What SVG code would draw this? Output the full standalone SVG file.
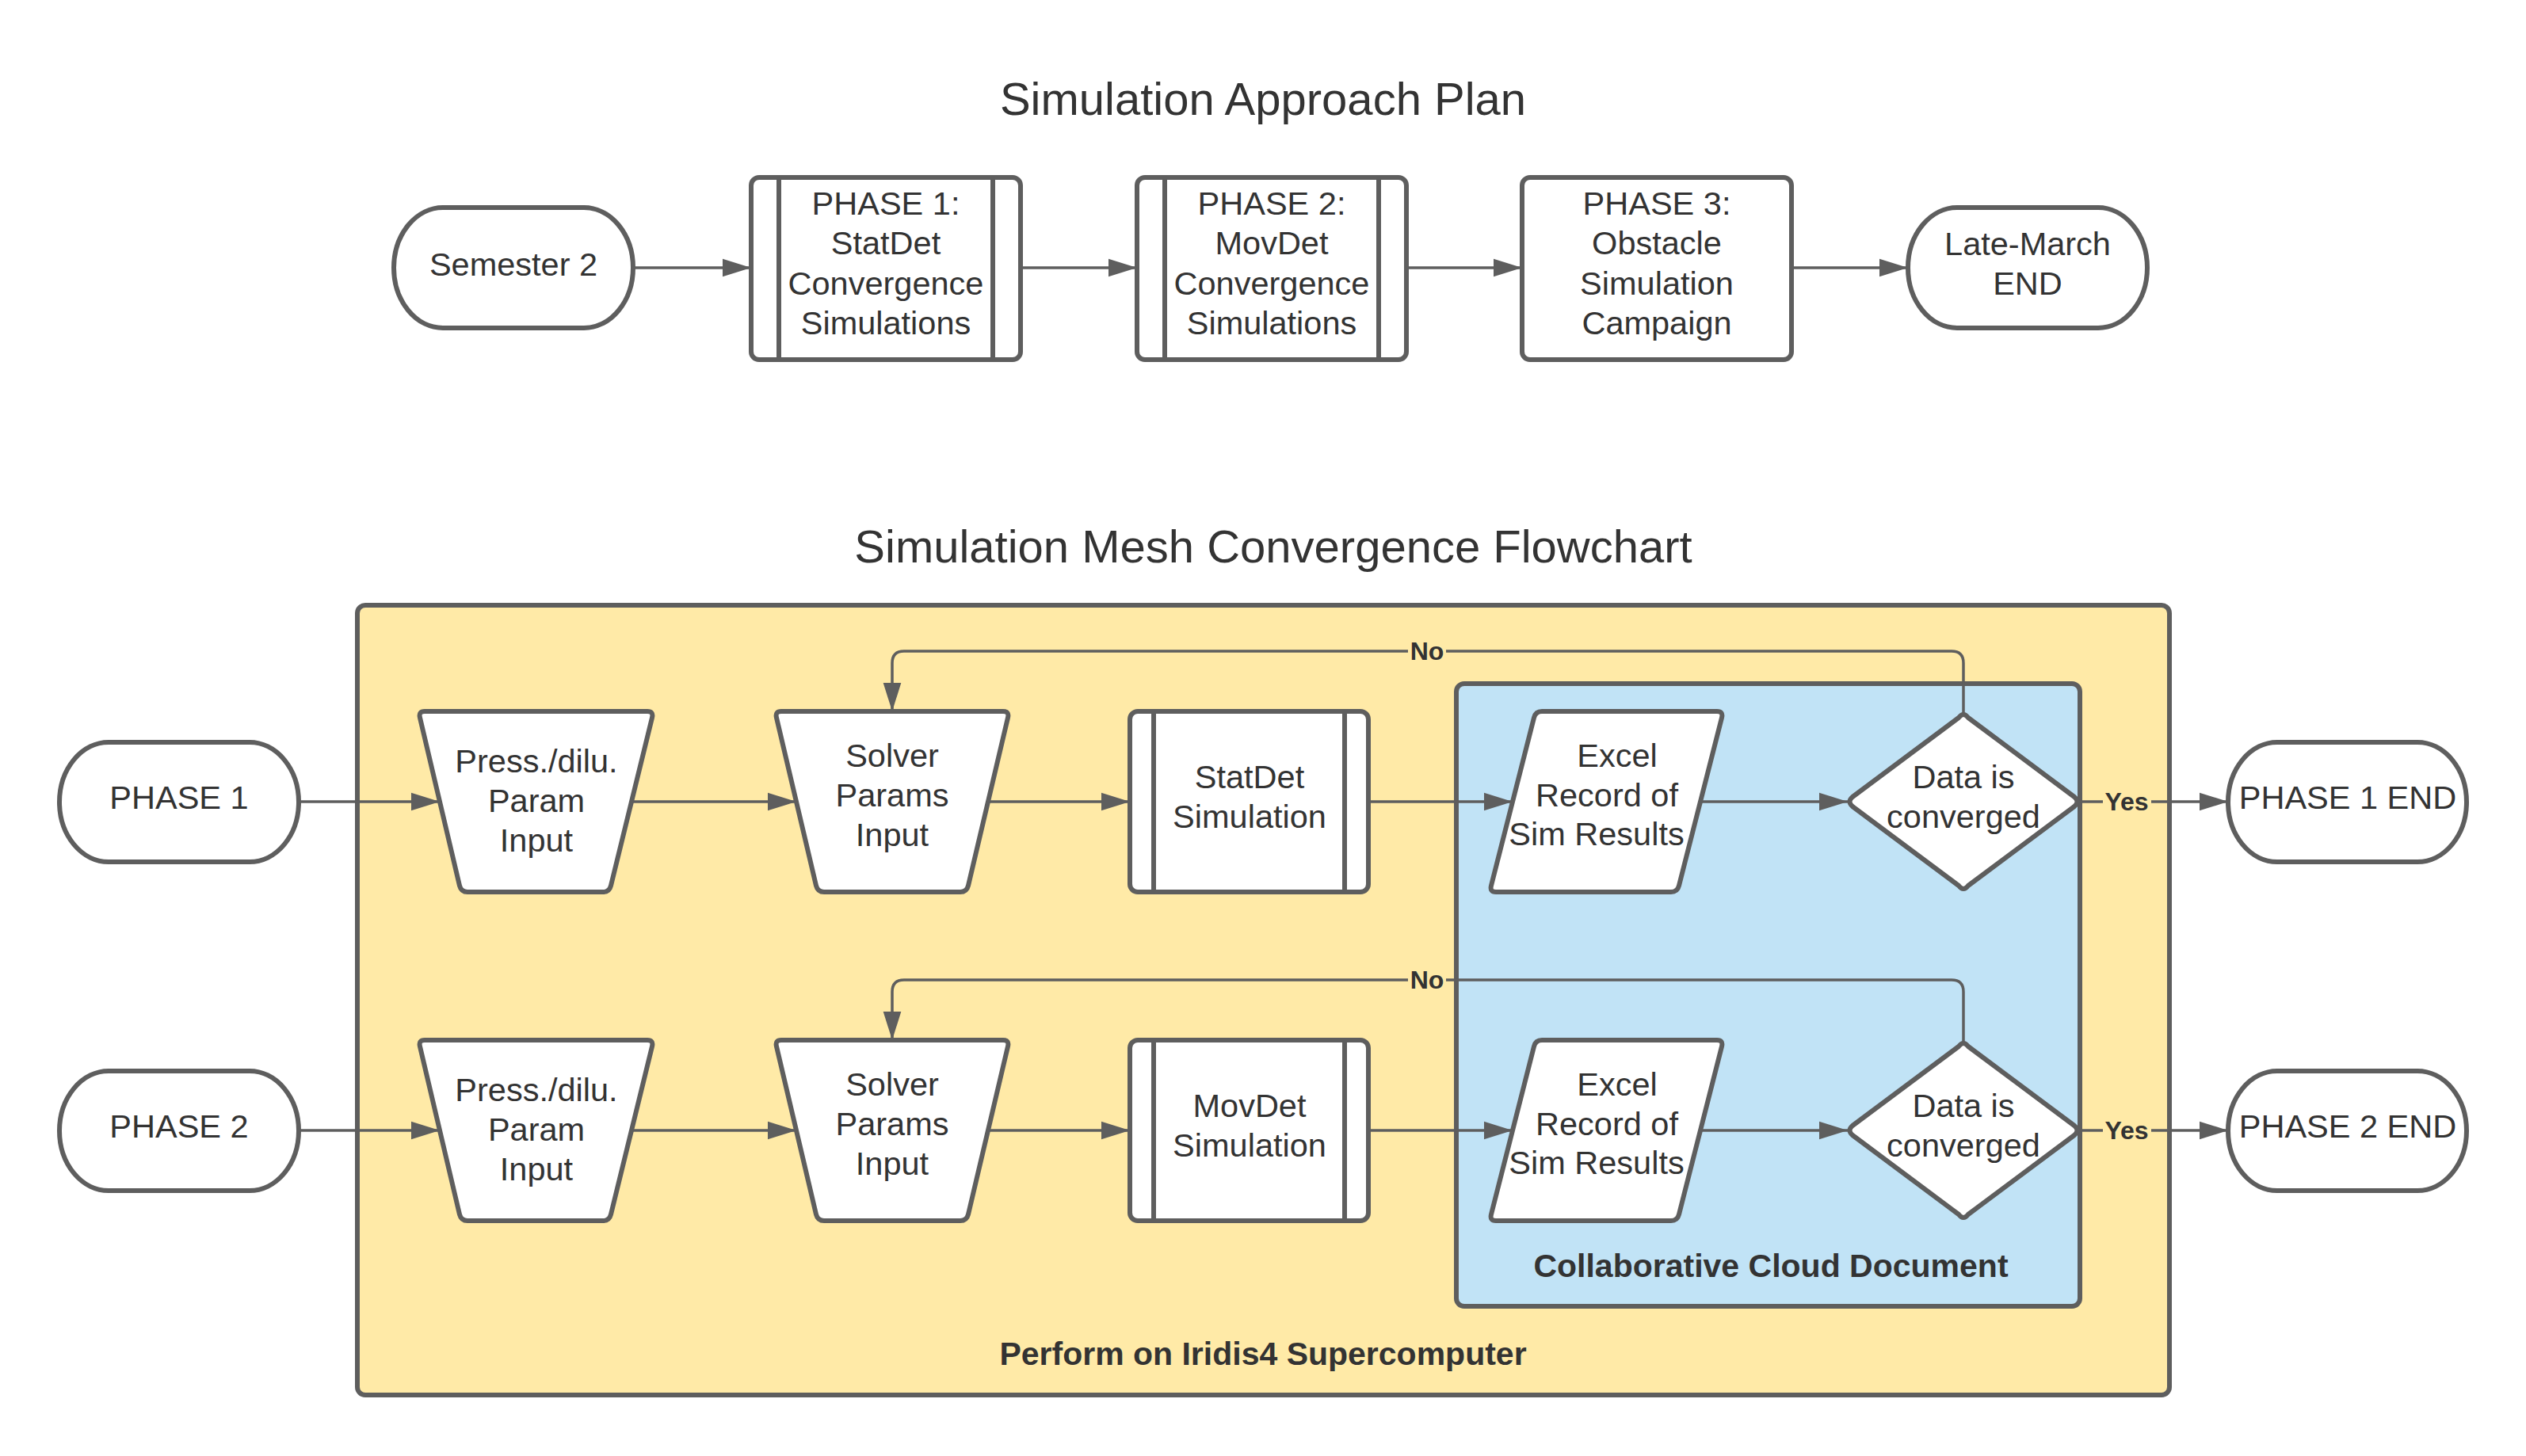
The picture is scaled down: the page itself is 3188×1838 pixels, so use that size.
<svg xmlns="http://www.w3.org/2000/svg" width="3188" height="1838" viewBox="0 0 3188 1838">
<defs>
<marker id="ah" markerUnits="userSpaceOnUse" markerWidth="36" markerHeight="24" viewBox="0 0 35 22" refX="35" refY="11" orient="auto">
<path d="M0,0 L35,11 L0,22 Z" fill="#5e5e5e"/>
</marker>
<style>
.n{fill:#ffffff;stroke:#5e5e5e;stroke-width:6;stroke-linejoin:round}
.ln{fill:none;stroke:#5e5e5e;stroke-width:6}
.c{fill:none;stroke:#5e5e5e;stroke-width:3.5}
.t{font-family:"Liberation Sans",Arial,sans-serif;font-size:41.5px;fill:#333333;text-anchor:middle}
.title{font-family:"Liberation Sans",Arial,sans-serif;font-size:58px;fill:#333333;text-anchor:middle}
.b{font-family:"Liberation Sans",Arial,sans-serif;font-size:41px;font-weight:bold;fill:#333333;text-anchor:middle}
.lb{font-family:"Liberation Sans",Arial,sans-serif;font-size:32px;font-weight:bold;fill:#333333;text-anchor:middle}
.lbg{fill:#FFEAA7}
</style>
</defs>
<rect width="3188" height="1838" fill="#ffffff"/>

<text class="title" x="1594" y="145">Simulation Approach Plan</text>
<text class="title" x="1607" y="710">Simulation Mesh Convergence Flowchart</text>

<g id="container-iridis">
<rect x="451" y="764" width="2287" height="997" rx="10" fill="#FFEAA7" stroke="#5e5e5e" stroke-width="6"/>
<text class="b" x="1594" y="1723">Perform on Iridis4 Supercomputer</text>
</g>
<g id="container-cloud">
<rect x="1838" y="863" width="787" height="786" rx="10" fill="#C1E3F6" stroke="#5e5e5e" stroke-width="6"/>
<text class="b" x="2235" y="1612">Collaborative Cloud Document</text>
</g>

<g id="connectors">
<!-- top row -->
<line class="c" x1="799" y1="338" x2="948" y2="338" marker-end="url(#ah)"/>
<line class="c" x1="1288" y1="338" x2="1435" y2="338" marker-end="url(#ah)"/>
<line class="c" x1="1775" y1="338" x2="1921" y2="338" marker-end="url(#ah)"/>
<line class="c" x1="2261" y1="338" x2="2408" y2="338" marker-end="url(#ah)"/>
<!-- row 1 -->
<line class="c" x1="377" y1="1012" x2="555" y2="1012" marker-end="url(#ah)"/>
<line class="c" x1="797" y1="1012" x2="1005" y2="1012" marker-end="url(#ah)"/>
<line class="c" x1="1247" y1="1012" x2="1426" y2="1012" marker-end="url(#ah)"/>
<line class="c" x1="1727" y1="1012" x2="1909" y2="1012" marker-end="url(#ah)"/>
<line class="c" x1="2147" y1="1012" x2="2332" y2="1012" marker-end="url(#ah)"/>
<line class="c" x1="2624" y1="1012" x2="2812" y2="1012" marker-end="url(#ah)"/>
<path class="c" d="M2478,902 V837 Q2478,822 2463,822 H1141 Q1126,822 1126,837 V898" marker-end="url(#ah)"/>
<rect class="lbg" x="1777" y="804" width="48" height="36"/>
<text class="lb" x="1801" y="833">No</text>
<rect class="lbg" x="2654" y="994" width="61" height="36"/>
<text class="lb" x="2684" y="1023">Yes</text>
<!-- row 2 -->
<line class="c" x1="377" y1="1427" x2="555" y2="1427" marker-end="url(#ah)"/>
<line class="c" x1="797" y1="1427" x2="1005" y2="1427" marker-end="url(#ah)"/>
<line class="c" x1="1247" y1="1427" x2="1426" y2="1427" marker-end="url(#ah)"/>
<line class="c" x1="1727" y1="1427" x2="1909" y2="1427" marker-end="url(#ah)"/>
<line class="c" x1="2147" y1="1427" x2="2332" y2="1427" marker-end="url(#ah)"/>
<line class="c" x1="2624" y1="1427" x2="2812" y2="1427" marker-end="url(#ah)"/>
<path class="c" d="M2478,1317 V1252 Q2478,1237 2463,1237 H1141 Q1126,1237 1126,1252 V1313" marker-end="url(#ah)"/>
<rect class="lbg" x="1777" y="1219" width="48" height="36"/>
<text class="lb" x="1801" y="1248">No</text>
<rect class="lbg" x="2654" y="1409" width="61" height="36"/>
<text class="lb" x="2684" y="1438">Yes</text>
</g>

<!-- top row nodes -->
<g id="semester2">
<rect class="n" x="497" y="262" width="302" height="152" rx="62" ry="76"/>
<text class="t" x="648" y="348">Semester 2</text>
</g>
<g id="phase1-plan">
<rect class="n" x="948" y="224" width="340" height="230" rx="10"/>
<line class="ln" x1="983" y1="224" x2="983" y2="454"/>
<line class="ln" x1="1253" y1="224" x2="1253" y2="454"/>
<text class="t" x="1118" y="271">PHASE 1:</text>
<text class="t" x="1118" y="321">StatDet</text>
<text class="t" x="1118" y="372">Convergence</text>
<text class="t" x="1118" y="422">Simulations</text>
</g>
<g id="phase2-plan">
<rect class="n" x="1435" y="224" width="340" height="230" rx="10"/>
<line class="ln" x1="1470" y1="224" x2="1470" y2="454"/>
<line class="ln" x1="1740" y1="224" x2="1740" y2="454"/>
<text class="t" x="1605" y="271">PHASE 2:</text>
<text class="t" x="1605" y="321">MovDet</text>
<text class="t" x="1605" y="372">Convergence</text>
<text class="t" x="1605" y="422">Simulations</text>
</g>
<g id="phase3-plan">
<rect class="n" x="1921" y="224" width="340" height="230" rx="10"/>
<text class="t" x="2091" y="271">PHASE 3:</text>
<text class="t" x="2091" y="321">Obstacle</text>
<text class="t" x="2091" y="372">Simulation</text>
<text class="t" x="2091" y="422">Campaign</text>
</g>
<g id="late-march">
<rect class="n" x="2408" y="262" width="302" height="152" rx="62" ry="76"/>
<text class="t" x="2559" y="322">Late-March</text>
<text class="t" x="2559" y="372">END</text>
</g>

<!-- row 1 nodes -->
<g id="phase1-start">
<rect class="n" x="75" y="937" width="302" height="151" rx="62" ry="75.5"/>
<text class="t" x="226" y="1021">PHASE 1</text>
</g>
<g id="press-input-1">
<path class="n" d="M536,898 H817 Q825,898 823,906 L771,1118 Q769,1126 761,1126 H590 Q582,1126 580,1118 L530,906 Q528,898 536,898 Z"/>
<text class="t" x="677" y="975">Press./dilu.</text>
<text class="t" x="677" y="1025">Param</text>
<text class="t" x="677" y="1075">Input</text>
</g>
<g id="solver-input-1">
<path class="n" d="M986,898 H1266 Q1274,898 1272,906 L1222,1118 Q1220,1126 1212,1126 H1040 Q1032,1126 1030,1118 L980,906 Q978,898 986,898 Z"/>
<text class="t" x="1126" y="968">Solver</text>
<text class="t" x="1126" y="1018">Params</text>
<text class="t" x="1126" y="1068">Input</text>
</g>
<g id="statdet-sim">
<rect class="n" x="1426" y="898" width="301" height="228" rx="10"/>
<line class="ln" x1="1456" y1="898" x2="1456" y2="1126"/>
<line class="ln" x1="1697" y1="898" x2="1697" y2="1126"/>
<text class="t" x="1577" y="995">StatDet</text>
<text class="t" x="1577" y="1045">Simulation</text>
</g>
<g id="excel-1">
<path class="n" d="M1946,898 H2167 Q2175,898 2173,906 L2119,1118 Q2117,1126 2109,1126 H1888 Q1880,1126 1882,1118 L1936,906 Q1938,898 1946,898 Z"/>
<text class="t" x="2041" y="968">Excel</text>
<text class="t" x="2028" y="1018">Record of</text>
<text class="t" x="2015" y="1067">Sim Results</text>
</g>
<g id="decision-1">
<path class="n" d="M2472,906 Q2478,898 2484,906 L2618,1006 Q2625,1012 2618,1018 L2484,1118 Q2478,1126 2472,1118 L2338,1018 Q2331,1012 2338,1006 Z"/>
<text class="t" x="2478" y="995">Data is</text>
<text class="t" x="2478" y="1045">converged</text>
</g>
<g id="phase1-end">
<rect class="n" x="2812" y="937" width="301" height="151" rx="62" ry="75.5"/>
<text class="t" x="2963" y="1021">PHASE 1 END</text>
</g>

<!-- row 2 nodes -->
<g id="phase2-start">
<rect class="n" x="75" y="1352" width="302" height="151" rx="62" ry="75.5"/>
<text class="t" x="226" y="1436">PHASE 2</text>
</g>
<g id="press-input-2">
<path class="n" d="M536,1313 H817 Q825,1313 823,1321 L771,1533 Q769,1541 761,1541 H590 Q582,1541 580,1533 L530,1321 Q528,1313 536,1313 Z"/>
<text class="t" x="677" y="1390">Press./dilu.</text>
<text class="t" x="677" y="1440">Param</text>
<text class="t" x="677" y="1490">Input</text>
</g>
<g id="solver-input-2">
<path class="n" d="M986,1313 H1266 Q1274,1313 1272,1321 L1222,1533 Q1220,1541 1212,1541 H1040 Q1032,1541 1030,1533 L980,1321 Q978,1313 986,1313 Z"/>
<text class="t" x="1126" y="1383">Solver</text>
<text class="t" x="1126" y="1433">Params</text>
<text class="t" x="1126" y="1483">Input</text>
</g>
<g id="movdet-sim">
<rect class="n" x="1426" y="1313" width="301" height="228" rx="10"/>
<line class="ln" x1="1456" y1="1313" x2="1456" y2="1541"/>
<line class="ln" x1="1697" y1="1313" x2="1697" y2="1541"/>
<text class="t" x="1577" y="1410">MovDet</text>
<text class="t" x="1577" y="1460">Simulation</text>
</g>
<g id="excel-2">
<path class="n" d="M1946,1313 H2167 Q2175,1313 2173,1321 L2119,1533 Q2117,1541 2109,1541 H1888 Q1880,1541 1882,1533 L1936,1321 Q1938,1313 1946,1313 Z"/>
<text class="t" x="2041" y="1383">Excel</text>
<text class="t" x="2028" y="1433">Record of</text>
<text class="t" x="2015" y="1482">Sim Results</text>
</g>
<g id="decision-2">
<path class="n" d="M2472,1321 Q2478,1313 2484,1321 L2618,1421 Q2625,1427 2618,1433 L2484,1533 Q2478,1541 2472,1533 L2338,1433 Q2331,1427 2338,1421 Z"/>
<text class="t" x="2478" y="1410">Data is</text>
<text class="t" x="2478" y="1460">converged</text>
</g>
<g id="phase2-end">
<rect class="n" x="2812" y="1352" width="301" height="151" rx="62" ry="75.5"/>
<text class="t" x="2963" y="1436">PHASE 2 END</text>
</g>
</svg>
